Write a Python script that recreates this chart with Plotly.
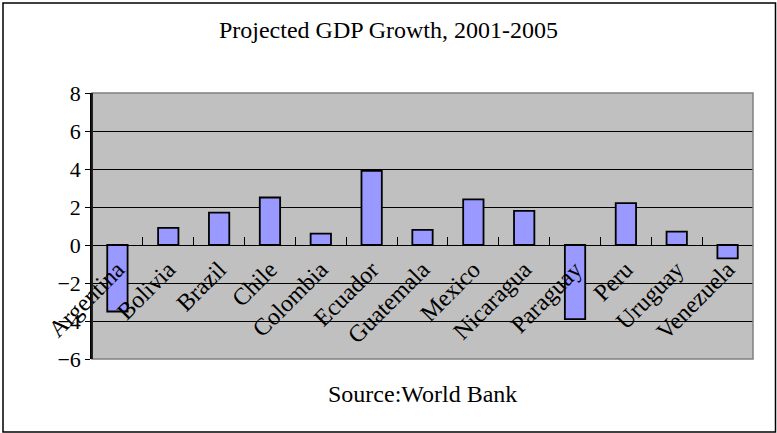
import plotly.graph_objects as go

countries = ["Argentina", "Bolivia", "Brazil", "Chile", "Colombia", "Ecuador",
             "Guatemala", "Mexico", "Nicaragua", "Paraguay", "Peru", "Uruguay", "Venezuela"]
growth = [-3.5, 0.9, 1.7, 2.5, 0.6, 3.9, 0.8, 2.4, 1.8, -3.9, 2.2, 0.7, -0.7]
y_ticks = [-6, -4, -2, 0, 2, 4, 6, 8]
title_text = "Projected GDP Growth, 2001-2005"
source_text = "Source:World Bank"

W, H = 777, 433
L, R, T, B = 92, 24, 93, 74
FONT = "Liberation Serif"
ymin, ymax = -6, 8

fig = go.Figure()
fig.add_trace(go.Bar(
    x=countries, y=growth, width=0.4,
    marker=dict(color="#9999FF", line=dict(color="black", width=1.8)),
))

pw, ph = W - L - R, H - T - B
def px_x(x):
    return (x - L) / pw
def px_y(y):
    return (H - B - y) / ph

fig.update_layout(
    width=W, height=H,
    margin=dict(l=L, r=R, t=T, b=B, autoexpand=False),
    paper_bgcolor="white",
    plot_bgcolor="#C0C0C0",
    showlegend=False,
    font=dict(family=FONT, color="black", size=19),
    title=dict(text=title_text, x=0.5, xanchor="center", y=1 - 30 / H, yanchor="middle",
               font=dict(family=FONT, size=24, color="black")),
    xaxis=dict(
        type="category", anchor="free", position=(0 - ymin) / (ymax - ymin),
        automargin=False,
        showline=True, linecolor="black", linewidth=1,
        ticks="inside", ticklen=8, tickcolor="black", tickwidth=1,
        tickson="boundaries", tickangle=-45, showgrid=False,
        tickfont=dict(family=FONT, size=24, color="black"),
    ),
    yaxis=dict(
        range=[ymin, ymax], tickvals=y_ticks, showgrid=True, gridcolor="black", gridwidth=1,
        automargin=False,
        zeroline=False, showline=True, linecolor="black", linewidth=1.5,
        ticks="outside", ticklen=5, tickcolor="black",
        tickfont=dict(family=FONT, size=22, color="black"),
    ),
    shapes=[
        dict(type="rect", xref="paper", yref="paper", x0=0, x1=1, y0=0, y1=1,
             line=dict(color="#808080", width=1.5), fillcolor="rgba(0,0,0,0)", layer="above"),
        dict(type="line", xref="paper", yref="paper", x0=0, x1=0, y0=0, y1=1,
             line=dict(color="black", width=1.5), layer="above"),
        dict(type="rect", xref="paper", yref="paper",
             x0=px_x(3), x1=px_x(775.5), y0=px_y(432), y1=px_y(3),
             line=dict(color="black", width=1.5), fillcolor="rgba(0,0,0,0)"),
    ],
    annotations=[
        dict(text=source_text, xref="paper", yref="paper", x=0.5, y=px_y(394),
             xanchor="center", yanchor="middle", showarrow=False,
             font=dict(family=FONT, size=24, color="black")),
    ],
)

fig.write_html("out.html", config={"displayModeBar": False},
               post_script="document.body.style.margin='0';")
